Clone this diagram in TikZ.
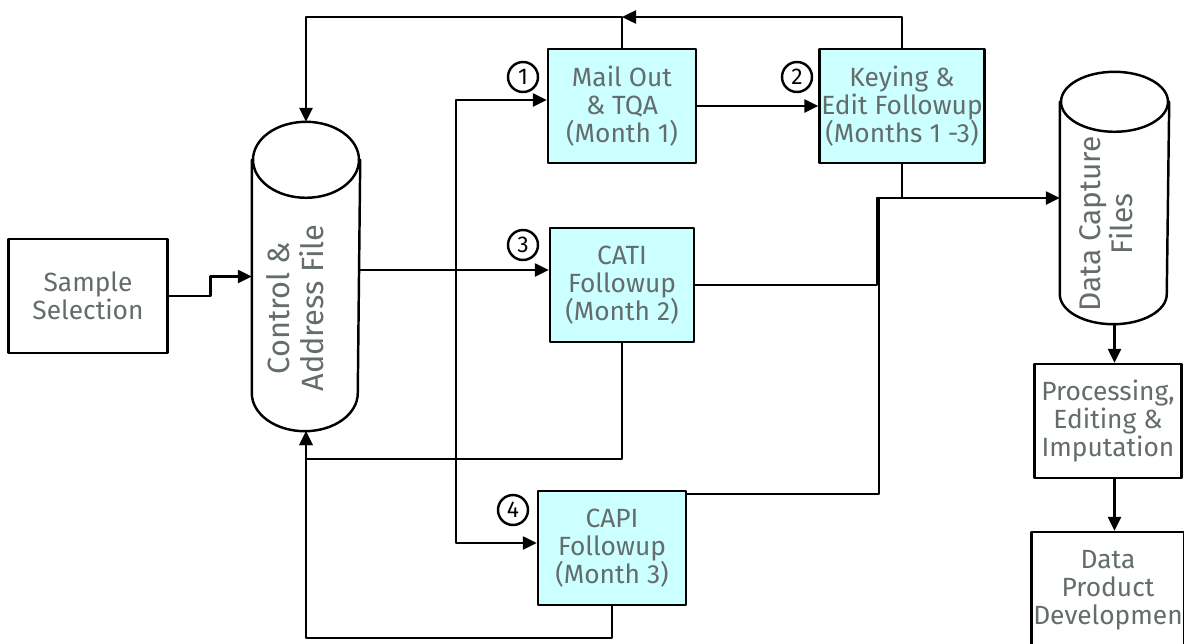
\documentclass[tikz,border=0pt]{standalone}
\usepackage{fontspec}
\setmainfont{Fira Sans}
\usetikzlibrary{arrows.meta}
\definecolor{boxcyan}{RGB}{204,255,255}
\definecolor{txtgrey}{RGB}{100,108,108}
\newcommand\tank[3]{%
	\draw ([yshift=-#3]#1.north west) -- ([yshift=#3]#1.south west) arc[start angle=180, end angle=360, x radius=#2, y radius=#3] -- ([yshift=-#3]#1.north east);
	\draw ([yshift=-#3]#1.north) ellipse [x radius=#2, y radius=#3];}
\begin{document}
\begin{tikzpicture}[x=0.02cm, y=-0.02cm, line join=round, line cap=round, >={Triangle[length=0.28cm,width=0.26cm]}, line width=1.4pt]
	\tikzset{every node/.style={text=txtgrey, font=\fontsize{15}{16}\selectfont, align=center},
		stage/.style={draw, fill=boxcyan, minimum height=2.28cm, inner sep=1pt},
		plain/.style={draw, fill=white, minimum height=2.28cm, inner sep=1pt},
		num/.style={draw, circle, text=black, minimum size=0.6cm, inner sep=0pt, font=\fontsize{13}{13}\selectfont}}
	\useasboundingbox (0,0) rectangle (1184,643);
	\node[plain, minimum width=3.18cm] (samp) at (88,296) {Sample\\Selection};
	\node[stage, minimum width=2.96cm] (mail) at (622,106) {Mail Out\\\& TQA\\(Month 1)};
	\node[stage, minimum width=3.12cm] (key) at (902,106) {Keying \&\\Edit Followup\\(Months 1 -3)};
	\node[stage, minimum width=2.88cm] (cati) at (622,285) {CATI\\Followup\\(Month 2)};
	\node[stage, minimum width=2.96cm] (capi) at (612,548) {CAPI\\Followup\\(Month 3)};
	\node[plain, minimum width=2.94cm] (proc) at (1108,421) {Processing,\\Editing \&\\Imputation};
	\node[plain, minimum width=2.94cm, minimum height=2.32cm] (prod) at (1108,590) {Data\\Product\\Developmen};
	\node[minimum width=2.12cm, minimum height=6.14cm, inner sep=0pt] (ctrl) at (306,276.5) {};
	\node[minimum width=2.14cm, minimum height=5cm, inner sep=0pt] (dcf) at (1114.5,198) {};
	\tank{ctrl}{1.06cm}{0.76cm}
	\tank{dcf}{1.07cm}{0.6cm}
	\node[rotate=90, font=\fontsize{17.5}{19.4}\selectfont] (ctrltxt) at (295,308) {Control \&\\Address File};
	\node[rotate=90, font=\fontsize{17}{16}\selectfont] (dcftxt) at (1106,224) {Data Capture\\Files};
	\foreach \n/\pos in {1/{523,77}, 2/{797,77}, 3/{523,245}, 4/{513,510}}
		\node[num] (c\n) at (\pos) {\n};
	\coordinate (top) at (0,17);
	\coordinate (bus) at (456,270);
	\coordinate (jn) at (879,198);
	\draw[->] (samp.east) -- ++(42,0) |- (ctrl.west);
	\draw[->] (mail.north) |- (ctrl.north |- top) -- (ctrl.north);
	\draw[->] (key.north) |- (mail.north |- top);
	\draw (ctrl.east |- bus) -- (bus);
	\draw[->] (bus) -- (bus -| cati.west);
	\draw[->] (bus) |- ([yshift=0.12cm]mail.west);
	\draw[->] (bus) |- ([yshift=0.1cm]capi.west);
	\draw[->] (mail) -- (key);
	\draw (key.south) -- (key.south |- jn);
	\draw (cati.east) -| ([xshift=-0.04cm]jn) -- (jn);
	\draw[->] ([yshift=-0.08cm]capi.north east) -| (jn) -- (dcf.west);
	\draw[->] (cati.south) -- ++(0,116) -| (ctrl.south);
	\draw[->] (capi.south) -- ++(0,32) -| (ctrl.south);
	\draw[->] (dcf.south) -- (dcf.south |- proc.north);
	\draw[->] (proc.south -| dcf.south) -- (prod.north -| dcf.south);
\end{tikzpicture}
\end{document}
